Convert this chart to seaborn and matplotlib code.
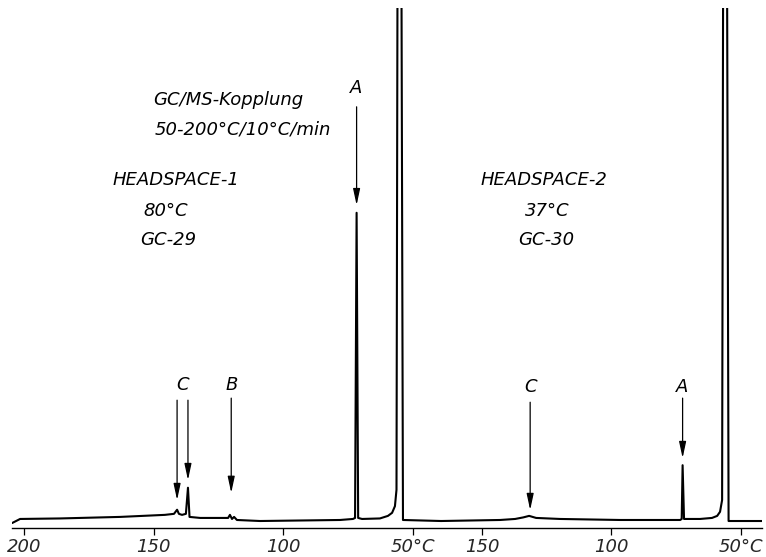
import matplotlib
matplotlib.use("Agg")
import matplotlib.pyplot as plt
import numpy as np
import pandas as pd
import seaborn as sns

# ---------------- data ----------------
# HEADSPACE-1, 80 °C, GC-29 : oven temperature (°C) vs. detector signal (% of full scale)
hs1_temp = [204.6, 201.5, 186.1, 162.9, 145.6, 142.1, 140.9, 140.2, 139.0, 137.5,
            136.7, 136.1, 132.0, 121.2, 120.5, 119.7, 118.9, 117.8, 108.9, 78.0,
            73.0, 72.2, 71.6, 71.0, 69.5, 62.6, 59.5, 57.9, 56.8, 56.2,
            55.8, 54.3, 53.7, 39.0]
hs1_signal = [-0.6, 0.2, 0.3, 0.6, 1.0, 1.2, 2.0, 1.2, 1.0, 1.2,
              6.3, 0.6, 0.4, 0.4, 1.0, 0.2, 0.6, 0.0, -0.2, 0.0,
              0.2, 0.4, 60.0, 0.4, 0.2, 0.3, 0.8, 1.4, 2.7, 5.9,
              109.0, 109.0, 0.0, -0.2]

# HEADSPACE-2, 37 °C, GC-30
hs2_temp = [165.8, 143.0, 137.2, 134.1, 131.8, 129.1, 119.9, 96.7, 73.5, 72.9,
            72.55, 72.0, 65.8, 61.2, 59.2, 58.1, 57.3, 56.9, 55.4, 54.8, 41.9]
hs2_signal = [-0.2, 0.0, 0.2, 0.5, 0.8, 0.4, 0.2, 0.0, 0.0, 0.2,
              10.7, 0.2, 0.2, 0.4, 0.8, 1.6, 3.9, 109.0, 109.0, -0.2, -0.2]

# axis tick temperatures of each run
hs1_ticks = [200, 150, 100, 50]
hs2_ticks = [150, 100, 50]
tick_labels = ["200", "150", "100", "50°C", "150", "100", "50°C"]

# marked peaks: (label, temperature)
hs1_peak_labels = ["A", "B", "C", "C"]
hs1_peak_temps = [71.6, 120.0, 140.9, 136.7]
hs2_peak_labels = ["A", "C"]
hs2_peak_temps = [72.55, 131.4]

# ---------------- layout ----------------
REF1 = 200.0          # position = REF - temperature
REF2 = 326.8

def pos1(t):
    return REF1 - np.asarray(t, dtype=float)

def pos2(t):
    return REF2 - np.asarray(t, dtype=float)

df = pd.concat([
    pd.DataFrame({"pos": pos1(hs1_temp), "signal": hs1_signal, "run": "HS-1"}),
    pd.DataFrame({"pos": pos2(hs2_temp), "signal": hs2_signal, "run": "HS-2"}),
], ignore_index=True)

sns.set_theme(style="white")
plt.rcParams["font.family"] = ["DejaVu Sans"]

W, H = 766, 557
fig = plt.figure(figsize=(W / 100, H / 100), dpi=100)
ax = fig.add_axes([12 / W, 0, 750 / W, 549 / H])

for run in ["HS-1", "HS-2"]:
    sub = df[df["run"] == run]
    sns.lineplot(data=sub, x="pos", y="signal", ax=ax, sort=False,
                 estimator=None, color="black", lw=1.5, legend=False)

ax.set_xlim(-4.63, 284.9)
ax.set_ylim(-7.23, 100)
ax.set_xlabel("")
ax.set_ylabel("")
ax.set_yticks([])

for s in ["left", "right", "top"]:
    ax.spines[s].set_visible(False)
ax.spines["bottom"].set_position(("data", -1.56))
ax.spines["bottom"].set_linewidth(1.0)
ax.spines["bottom"].set_color("black")

tick_pos = list(pos1(hs1_ticks)) + list(pos2(hs2_ticks))
ax.set_xticks(tick_pos)
ax.set_xticklabels(tick_labels)
ax.tick_params(axis="x", direction="out", length=5, width=0.9, color="black",
               pad=2, labelsize=13, bottom=True)
for lab in ax.get_xticklabels():
    lab.set_style("italic")

txt = dict(style="italic", fontsize=13, color="black", va="center")

# text blocks (x in axis position units)
ax.text(49.8, 82.0, "GC/MS-Kopplung", ha="left", **txt)
ax.text(50.5, 76.2, "50-200°C/10°C/min", ha="left", **txt)
ax.text(34.0, 66.4, "HEADSPACE-1", ha="left", **txt)
ax.text(54.8, 60.3, "80°C", ha="center", **txt)
ax.text(55.6, 54.7, "GC-29", ha="center", **txt)
ax.text(176.1, 66.4, "HEADSPACE-2", ha="left", **txt)
ax.text(201.9, 60.3, "37°C", ha="center", **txt)
ax.text(201.5, 54.7, "GC-30", ha="center", **txt)

arrow = dict(arrowstyle="-|>,head_length=0.7,head_width=0.15", lw=0.9,
             color="black", shrinkA=0, shrinkB=0, mutation_scale=14)

# arrows: (position, tail, tip)
hs1_arrows = [(pos1(hs1_peak_temps[0]), 80.7, 61.5),
              (pos1(hs1_peak_temps[1]), 23.8, 5.3),
              (pos1(hs1_peak_temps[2]), 23.4, 3.9),
              (pos1(hs1_peak_temps[3]), 23.4, 7.8)]
hs2_arrows = [(pos2(hs2_peak_temps[0]), 23.8, 12.1),
              (pos2(hs2_peak_temps[1]), 23.0, 1.95)]
for (x, tail, tip) in hs1_arrows + hs2_arrows:
    ax.annotate("", xy=(x, tip), xytext=(x, tail), arrowprops=arrow)

# peak letters
ax.text(pos1(hs1_peak_temps[0]), 84.4, hs1_peak_labels[0], ha="center", **txt)
ax.text(pos1(hs1_peak_temps[1]), 26.4, hs1_peak_labels[1], ha="center", **txt)
ax.text((pos1(hs1_peak_temps[2]) + pos1(hs1_peak_temps[3])) / 2, 26.4,
        hs1_peak_labels[2], ha="center", **txt)
ax.text(pos2(hs2_peak_temps[0]), 26.0, hs2_peak_labels[0], ha="center", **txt)
ax.text(pos2(hs2_peak_temps[1]), 26.0, hs2_peak_labels[1], ha="center", **txt)

fig.savefig("out.png", dpi=100)
